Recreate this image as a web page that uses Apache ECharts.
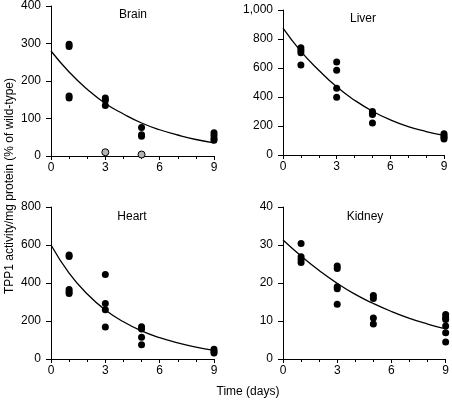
<!DOCTYPE html>
<html>
<head>
<meta charset="utf-8">
<script src="https://cdn.jsdelivr.net/npm/echarts@6/dist/echarts.min.js"></script>
<style>html,body{margin:0;padding:0;background:#fff}#c{width:452px;height:400px}</style>
</head>
<body>
<div id="c"></div>
<script>
// Data
var panelNames = ['Brain', 'Liver', 'Heart', 'Kidney'];
var xTicks = [0, 3, 6, 9];
var curveDays = [0, 1, 2, 3, 4, 5, 6, 7, 8, 9];

var brainPts = [[1,298],[1,292],[1,160],[1,155],[3,155],[3,149],[3,135],[5,76],[5,57],[5,53],[9,62],[9,55],[9,47],[9,42]];
var brainGray = [[3,10],[5,4]];
var brainCurve = [280, 224, 178, 140, 112, 88, 70, 56, 44, 35];

var liverPts = [[1,740],[1,722],[1,706],[1,620],[3,641],[3,584],[3,460],[3,398],[5,300],[5,285],[5,280],[5,220],[9,146],[9,133],[9,122],[9,110]];
var liverCurve = [875, 715, 585, 470, 378, 302, 242, 196, 162, 135];

var heartPts = [[1,548],[1,540],[1,366],[1,354],[1,345],[3,445],[3,292],[3,259],[3,168],[5,170],[5,158],[5,114],[5,75],[9,51],[9,39],[9,32]];
var heartCurve = [600, 452, 342, 258, 196, 148, 112, 85, 63, 45];

var kidneyPts = [[1,30.4],[1,26.9],[1,26.2],[1,25.4],[3,24.5],[3,23.8],[3,19.0],[3,18.5],[3,14.4],[5,16.7],[5,15.9],[5,10.8],[5,9.2],[9,11.7],[9,10.9],[9,10.4],[9,8.7],[9,6.9],[9,4.5]];
var kidneyCurve = [31.3, 27.1, 23.3, 19.9, 17.0, 14.6, 12.5, 10.7, 9.2, 7.9];

var yMax = [400, 1000, 800, 40];
var yInterval = [100, 200, 200, 10];
var yTitle = 'TPP1 activity/mg protein (% of wild-type)';
var xTitle = 'Time (days)';

var FONT = 'Liberation Sans, Arial, Helvetica, sans-serif';
var grids = [
  {left: 51, top: 6, width: 163, height: 150},
  {left: 283, top: 10, width: 161, height: 145},
  {left: 51, top: 207, width: 163, height: 152},
  {left: 283, top: 207, width: 164, height: 152}
];
var titlePos = [[133, 9], [363, 13], [132, 211], [365, 211]];

function curveData(vals) { return curveDays.map(function (d, i) { return [d, vals[i]]; }); }

var xAxes = [], yAxes = [], series = [], titles = [];
var ptsAll = [brainPts, liverPts, heartPts, kidneyPts];
var curves = [brainCurve, liverCurve, heartCurve, kidneyCurve];
for (var i = 0; i < 4; i++) {
  xAxes.push({
    type: 'value', gridIndex: i, min: 0, max: 9, interval: 3,
    axisLine: {lineStyle: {color: '#000', width: 1}},
    axisTick: {show: true, length: 4, lineStyle: {color: '#000'}},
    minorTick: {show: true, splitNumber: 3, length: 3, lineStyle: {color: '#000'}},
    splitLine: {show: false},
    axisLabel: {color: '#000', fontSize: 12, fontFamily: FONT, margin: 6}
  });
  yAxes.push({
    type: 'value', gridIndex: i, min: 0, max: yMax[i], interval: yInterval[i],
    axisLine: {show: true, lineStyle: {color: '#000', width: 1}},
    axisTick: {show: true, length: 5, lineStyle: {color: '#000'}},
    splitLine: {show: false},
    axisLabel: {color: '#000', fontSize: 12, fontFamily: FONT, margin: 10,
      formatter: function (v) { return v >= 1000 ? v.toLocaleString('en-US') : String(v); }}
  });
  series.push({
    type: 'line', xAxisIndex: i, yAxisIndex: i, data: curveData(curves[i]),
    smooth: true, showSymbol: false, lineStyle: {color: '#000', width: 1.3}, z: 2, silent: true
  });
  series.push({
    type: 'scatter', xAxisIndex: i, yAxisIndex: i, data: ptsAll[i],
    symbol: 'circle', symbolSize: 7, itemStyle: {color: '#000', opacity: 1}, z: 3
  });
  titles.push({
    text: panelNames[i], left: titlePos[i][0], top: titlePos[i][1], textAlign: 'center', padding: 0,
    textStyle: {fontSize: 12, fontWeight: 'normal', color: '#000', fontFamily: FONT}
  });
}
series.push({
  type: 'scatter', xAxisIndex: 0, yAxisIndex: 0, data: brainGray,
  symbol: 'circle', symbolSize: 7,
  itemStyle: {color: '#b4b4b4', borderColor: '#000', borderWidth: 1, opacity: 1}, z: 4
});

var chart = echarts.init(document.getElementById('c'), null, {renderer: 'canvas'});
chart.setOption({
  animation: false,
  backgroundColor: '#fff',
  title: titles,
  grid: grids,
  xAxis: xAxes,
  yAxis: yAxes,
  series: series,
  graphic: [
    {type: 'text', x: 10, y: 186, rotation: Math.PI / 2,
     style: {text: yTitle, fontSize: 12, fontFamily: FONT, fill: '#000', textAlign: 'center', textVerticalAlign: 'middle'}},
    {type: 'text', x: 248, y: 392,
     style: {text: xTitle, fontSize: 12, fontFamily: FONT, fill: '#000', textAlign: 'center', textVerticalAlign: 'middle'}}
  ]
});
</script>
</body>
</html>
